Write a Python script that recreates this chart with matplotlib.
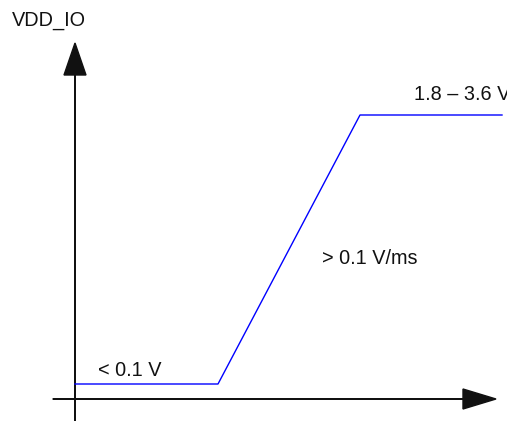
import matplotlib.pyplot as plt

plt.rcParams['font.family'] = ['Liberation Sans', 'DejaVu Sans']

# ramp of VDD_IO (schematic units, origin at the axis crossing)
t = [0, 143, 285, 427]
v = [15, 15, 284, 284]

labels = ['< 0.1 V', '> 0.1 V/ms', '1.8 \u2013 3.6 V']
label_pos = [(23, 29), (247, 141), (339, 305)]

fig = plt.figure(figsize=(5.07, 4.21), dpi=100)
ax = fig.add_axes([0, 0, 1, 1])
ax.set_xlim(-75, 432)
ax.set_ylim(-22, 399)
ax.axis('off')

# axes with arrow heads
ax.arrow(0, -22, 0, 378, width=0.5, head_width=22, head_length=32,
         length_includes_head=True, color='#111111')
ax.arrow(-22, 0, 443, 0, width=0.5, head_width=20, head_length=33,
         length_includes_head=True, color='#111111')

ax.plot(t, v, color='#0000ff', lw=1)

for s, (x, y) in zip(labels, label_pos):
    ax.text(x, y, s, fontsize=14.3, va='center', ha='left', color='#111111')

ax.text(-63, 379, 'VDD_IO', fontsize=14.3, va='center', ha='left', color='#111111')

fig.savefig('out.png', dpi=100)
